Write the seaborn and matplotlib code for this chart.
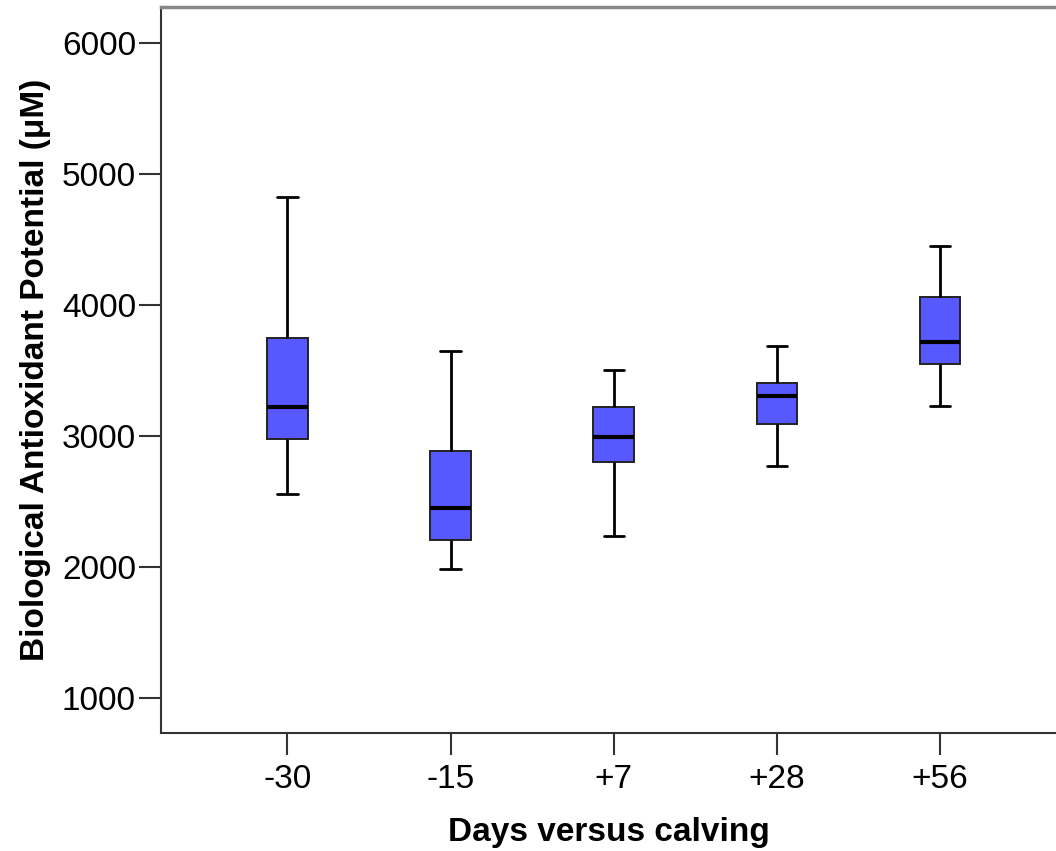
import numpy as np
import pandas as pd
import matplotlib
matplotlib.use("Agg")
import matplotlib.pyplot as plt
import seaborn as sns

# Five-number summaries: lower whisker, Q1, median, Q3, upper whisker
days = ["-30", "-15", "+7", "+28", "+56"]
low_whisker = [2560, 1985, 2235, 2770, 3230]
q1 = [2980, 2210, 2805, 3090, 3550]
median = [3225, 2450, 2990, 3305, 3718]
q3 = [3750, 2885, 3220, 3405, 4060]
high_whisker = [4825, 3650, 3505, 3690, 4450]

rows = []
for i, d in enumerate(days):
    for v in (low_whisker[i], q1[i], median[i], q3[i], high_whisker[i]):
        rows.append({"day": d, "value": v})
df = pd.DataFrame(rows)

sns.set_theme(style="white")
plt.rcParams["font.family"] = ["Liberation Sans", "DejaVu Sans"]

fig = plt.figure(figsize=(10.56, 8.51), dpi=100)
ax = fig.add_axes([161 / 1056, 1 - 733 / 851, 1 - 161 / 1056, (733 - 7) / 851])

sns.boxplot(
    data=df, x="day", y="value", order=days, ax=ax,
    whis=np.inf, width=0.25, color="#5858FF", saturation=1,
    linewidth=1.6, linecolor="#111111",
    medianprops={"color": "black", "linewidth": 3},
    whiskerprops={"color": "black", "linewidth": 2},
    capprops={"color": "black", "linewidth": 2},
    boxprops={"edgecolor": "#222222", "linewidth": 1.4},
)

ax.set_xlim(-0.775, (1056 - 287) / 163.25)
ax.set_ylim(733, 6275)
ax.set_yticks([1000, 2000, 3000, 4000, 5000, 6000])
ax.set_xlabel("Days versus calving", fontsize=24, fontweight="bold", labelpad=16, color="black")
ax.set_ylabel("Biological Antioxidant Potential (μM)", fontsize=24, fontweight="bold", labelpad=8, color="black")
ax.tick_params(axis="both", which="both", labelsize=24, length=16, width=1.5,
               color="#333333", labelcolor="black", left=True, bottom=True)
ax.tick_params(axis="y", pad=2)
ax.tick_params(axis="x", pad=6)

for side in ("left", "bottom"):
    ax.spines[side].set_color("#333333")
    ax.spines[side].set_linewidth(1.5)
ax.spines["top"].set_color("#888888")
ax.spines["top"].set_linewidth(2.5)
ax.spines["right"].set_visible(False)

fig.savefig("out.png", dpi=100)
